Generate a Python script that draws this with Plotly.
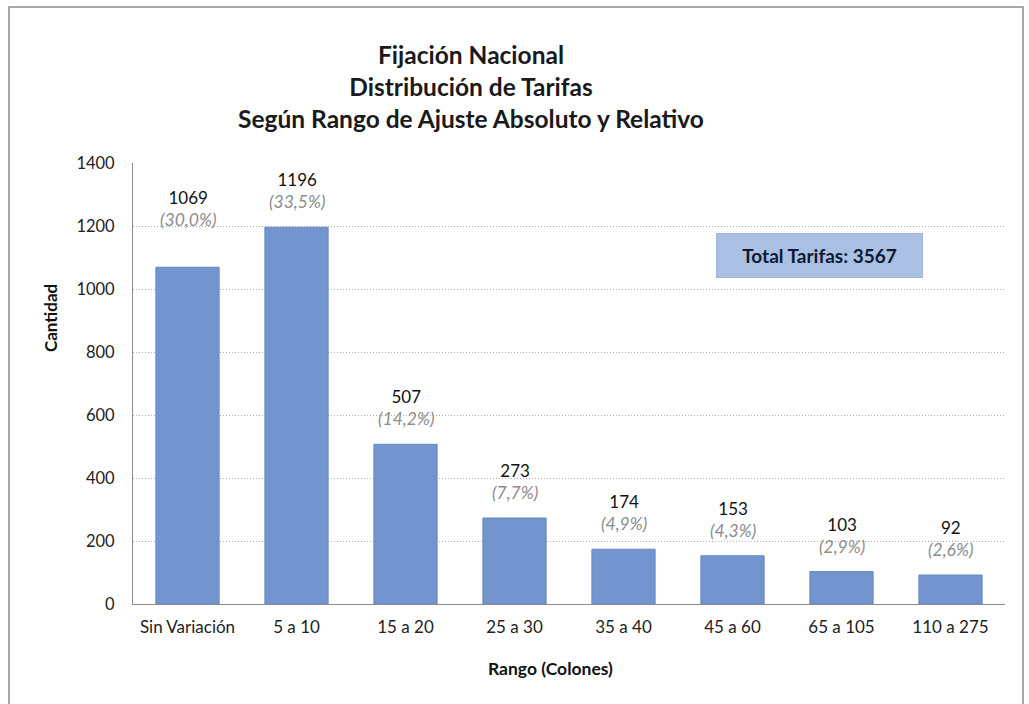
import plotly.graph_objects as go

categories = ["Sin Variación", "5 a 10", "15 a 20", "25 a 30", "35 a 40", "45 a 60", "65 a 105", "110 a 275"]
cantidad = [1069, 1196, 507, 273, 174, 153, 103, 92]
y_ticks = [0, 200, 400, 600, 800, 1000, 1200, 1400]

title_lines = ["Fijación Nacional", "Distribución de Tarifas", "Según Rango de Ajuste Absoluto y Relativo"]
x_title = "Rango (Colones)"
y_title = "Cantidad"

total = sum(cantidad)
pcts = [f"{100 * v / total:.1f}".replace(".", ",") + "%" for v in cantidad]

FONT = "Lato, Calibri, 'Open Sans', sans-serif"
BAR = "#7395cf"
W, H = 1029, 704
L, R, T, B = 133, 24, 163, 100
PW, PH = W - L - R, H - T - B

# extra lift (px) for the label of the first bar, as in the original layout
label_lift = {0: 22}

fig = go.Figure()
fig.add_trace(go.Bar(
    x=categories, y=cantidad,
    marker=dict(color=BAR, line=dict(color="#6787c0", width=1)),
    hoverinfo="x+y",
))

for i, (c, v, p) in enumerate(zip(categories, cantidad, pcts)):
    fig.add_annotation(
        x=c, y=v, xref="x", yref="y", yanchor="bottom", yshift=13 + label_lift.get(i, 0),
        text=(f"<span style='color:#111;font-size:17px'>{v}</span><br>"
              f"<i><span style='color:#8c8c8c;font-size:17.5px'>({p})</span></i>"),
        showarrow=False, font=dict(family=FONT, size=17), align="center",
    )

fig.add_annotation(
    x=(819.5 - L) / PW, y=(H - B - 255.5) / PH, xref="paper", yref="paper",
    xanchor="center", yanchor="middle",
    text=f"<b>Total Tarifas: {total}</b>", showarrow=False,
    font=dict(family=FONT, size=19, color="#0d1a33"),
    bgcolor="#a9c0e2", bordercolor="#a0b7db", borderwidth=1,
    width=203, height=41, borderpad=1,
)

# axis titles placed as in the original
fig.add_annotation(
    x=(550 - L) / PW, y=0, xref="paper", yref="paper", yshift=-(668 - (H - B)),
    xanchor="center", yanchor="middle", showarrow=False,
    text=f"<b>{x_title}</b>", font=dict(family=FONT, size=17.5, color="#111"),
)
fig.add_annotation(
    x=0, y=(H - B - 318) / PH, xref="paper", yref="paper", xshift=-(L - 50),
    xanchor="center", yanchor="middle", showarrow=False, textangle=-90,
    text=f"<b>{y_title}</b>", font=dict(family=FONT, size=17, color="#111"),
)

fig.update_layout(
    width=W, height=H,
    paper_bgcolor="white", plot_bgcolor="white",
    margin=dict(l=L, r=R, t=T, b=B),
    showlegend=False,
    bargap=0.42,
    title=dict(
        text="<b>" + "<br>".join(title_lines) + "</b>",
        x=471 / W, xanchor="center", y=1 - 64 / H, yanchor="top",
        font=dict(family=FONT, size=24.5, color="#1a1a1a"),
    ),
    font=dict(family=FONT, color="#222"),
    xaxis=dict(
        showline=True, linecolor="#8c8c8c", linewidth=1,
        ticks="", tickfont=dict(size=17, color="#222"), ticklabelstandoff=8,
        showgrid=False,
    ),
    yaxis=dict(
        range=[0, 1400], tickvals=y_ticks,
        showline=True, linecolor="#8c8c8c", linewidth=1,
        showgrid=True, gridcolor="#a8b0c8", griddash="1px,2px", gridwidth=1,
        ticks="", tickfont=dict(size=16.5, color="#222"), ticklabelstandoff=14,
        zeroline=False,
    ),
    shapes=[dict(type="rect", xref="paper", yref="paper",
                 x0=(9 - L) / PW, x1=(1023 - L) / PW, y0=-0.4, y1=(H - B - 7) / PH,
                 line=dict(color="#8a8a8a", width=1.5), fillcolor="rgba(0,0,0,0)", layer="below")],
)

fig.write_html("out.html", config={"displayModeBar": False},
               post_script="document.body.style.margin='0';")
